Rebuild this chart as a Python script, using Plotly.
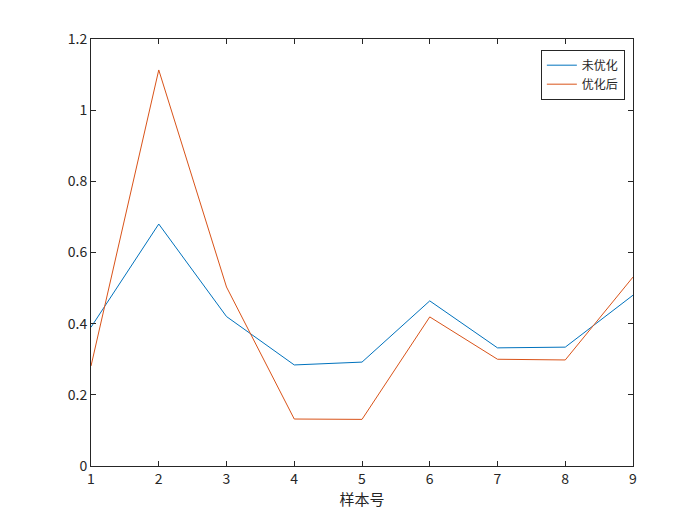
import plotly.graph_objects as go

x = list(range(1, 10))
unopt = [0.39, 0.68, 0.42, 0.284, 0.292, 0.464, 0.332, 0.334, 0.48]
opt = [0.281, 1.113, 0.503, 0.132, 0.131, 0.419, 0.30, 0.298, 0.531]

fig = go.Figure()
fig.add_trace(go.Scatter(x=x, y=unopt, mode="lines", name="未优化", line=dict(color="#0072BD", width=1)))
fig.add_trace(go.Scatter(x=x, y=opt, mode="lines", name="优化后", line=dict(color="#D95319", width=1)))

ax = dict(showline=True, linecolor="#262626", linewidth=1, mirror="ticks", ticks="inside",
          ticklen=5, tickcolor="#262626", showgrid=False, zeroline=False,
          tickfont=dict(size=14, color="#262626"))
fig.update_layout(
    width=700, height=525, paper_bgcolor="white", plot_bgcolor="white",
    margin=dict(l=83, r=75, t=31, b=67),
    font=dict(family="Noto Sans CJK SC, DejaVu Sans", color="#262626"),
    xaxis=dict(ax, range=[1, 9], dtick=1, title=dict(text="样本号", font=dict(size=15), standoff=4)),
    yaxis=dict(ax, range=[0, 1.2], dtick=0.2, tickformat="~g"),
    legend=dict(x=0.985, y=0.975, xanchor="right", yanchor="top", bordercolor="#262626",
                borderwidth=1, bgcolor="white", font=dict(size=12), tracegroupgap=0),
    showlegend=True,
)
fig.write_html("out.html")
